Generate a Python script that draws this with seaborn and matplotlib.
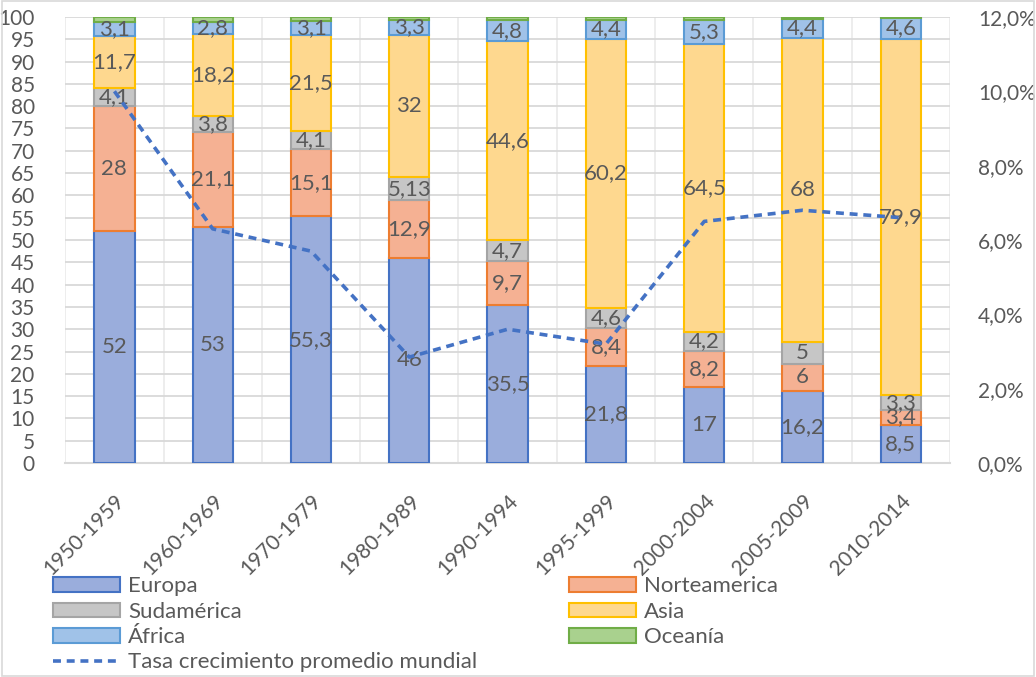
import numpy as np
import matplotlib
matplotlib.use("Agg")
import matplotlib.pyplot as plt
import seaborn as sns
from matplotlib.patches import Patch, Rectangle
from matplotlib.lines import Line2D
from matplotlib.ticker import FuncFormatter, MultipleLocator

# datos
periodos = ['1950-1959', '1960-1969', '1970-1979', '1980-1989', '1990-1994',
            '1995-1999', '2000-2004', '2005-2009', '2010-2014']
europa = [52, 53, 55.3, 46, 35.5, 21.8, 17, 16.2, 8.5]
norteamerica = [28, 21.1, 15.1, 12.9, 9.7, 8.4, 8.2, 6, 3.4]
sudamerica = [4.1, 3.8, 4.1, 5.13, 4.7, 4.6, 4.2, 5, 3.3]
asia = [11.7, 18.2, 21.5, 32, 44.6, 60.2, 64.5, 68, 79.9]
africa = [3.1, 2.8, 3.1, 3.3, 4.8, 4.4, 5.3, 4.4, 4.6]
oceania = [1.1, 1.1, 0.9, 0.67, 0.7, 0.6, 0.8, 0.4, 0.3]
tasa = [10.0, 6.3, 5.7, 2.85, 3.6, 3.2, 6.5, 6.8, 6.6]

series = [
    ('Europa', europa, '#9aaddc', '#4472c4', True),
    ('Norteamerica', norteamerica, '#f5b193', '#ed7d31', True),
    ('Sudamérica', sudamerica, '#c6c6c6', '#a5a5a5', True),
    ('Asia', asia, '#fed88f', '#ffc000', True),
    ('África', africa, '#a0c2e8', '#5b9bd5', True),
    ('Oceanía', oceania, '#a9d18e', '#70ad47', False),
]

sns.set_theme(style="white")
plt.rcParams['font.family'] = ['Lato', 'DejaVu Sans']
gris = '#595959'
fs = 16
fs_ticks = 15

fig = plt.figure(figsize=(10.36, 6.77), dpi=100)
ax = fig.add_axes([0.063, 0.316, 0.854, 0.659])
x = np.arange(len(periodos))
ancho = 0.41

base = np.zeros(len(periodos))
handles = {}
for nombre, vals, fill, edge, etiqueta in series:
    vals = np.array(vals)
    ax.bar(x, vals, ancho, bottom=base, color=fill, edgecolor=edge,
           linewidth=1.5, zorder=3)
    if etiqueta:
        for xi, b, v in zip(x, base, vals):
            txt = ('%g' % v).replace('.', ',')
            ax.text(xi, b + v / 2, txt, ha='center', va='center',
                    fontsize=fs, color=gris, zorder=5)
    handles[nombre] = Patch(facecolor=fill, edgecolor=edge, linewidth=1.5)
    base = base + vals

ax.set_xlim(-0.5, len(periodos) - 0.5)
ax.set_ylim(0, 100)
ax.yaxis.set_major_locator(MultipleLocator(5))
ax.set_xticks(x)
ax.set_xticks(np.arange(-0.5, len(periodos)), minor=True)
ax.set_xticklabels(periodos, rotation=45, ha='right', rotation_mode='anchor',
                   fontsize=fs_ticks, color=gris)
ax.tick_params(axis='x', which='major', length=0, pad=20)
ax.tick_params(axis='x', which='minor', length=6, color='#d9d9d9', width=1.3)
ax.tick_params(axis='y', length=0, labelsize=fs_ticks, labelcolor=gris, pad=22)
ax.grid(True, axis='y', color='#d9d9d9', linewidth=1.3, zorder=0)
ax.grid(True, axis='x', which='minor', color='#ececec', linewidth=1.3, zorder=0)
for s in ['left', 'right', 'top']:
    ax.spines[s].set_visible(False)
ax.spines['bottom'].set_color('#d9d9d9')
ax.spines['bottom'].set_linewidth(1.5)
ax.set_axisbelow(True)

ax2 = ax.twinx()
sns.lineplot(x=x, y=tasa, ax=ax2, color='#4472c4', linewidth=2.6,
             linestyle=(0, (2.2, 1.6)), zorder=6)
ax2.set_ylim(0, 12)
ax2.yaxis.set_major_locator(MultipleLocator(2))
ax2.yaxis.set_major_formatter(FuncFormatter(lambda v, p: ('%.1f%%' % v).replace('.', ',')))
ax2.tick_params(axis='y', length=0, labelsize=fs_ticks, labelcolor=gris, pad=20)
for s in ['left', 'right', 'top', 'bottom']:
    ax2.spines[s].set_visible(False)
ax2.grid(False)

linea = Line2D([0], [0], color='#4472c4', linewidth=2.6, linestyle=(0, (2.2, 1.6)))
orden = ['Europa', 'Sudamérica', 'África', None, 'Norteamerica', 'Asia', 'Oceanía']
hs, ls = [], []
for n in orden:
    if n is None:
        hs.append(linea)
        ls.append('Tasa crecimiento promedio mundial')
    else:
        hs.append(handles[n])
        ls.append(n)
leg = fig.legend(hs, ls, ncol=2, loc='upper left', bbox_to_anchor=(0.04, 0.165),
                 frameon=False, fontsize=fs, handlelength=3.05, handleheight=0.65,
                 labelspacing=0.24, columnspacing=4.1, handletextpad=0.36,
                 borderpad=0)
for t in leg.get_texts():
    t.set_color(gris)

fig.patches.append(Rectangle((0.002, 0.002), 0.996, 0.996, transform=fig.transFigure,
                             fill=False, edgecolor='#d9d9d9', linewidth=1.2))

fig.savefig('out.png', dpi=100)
